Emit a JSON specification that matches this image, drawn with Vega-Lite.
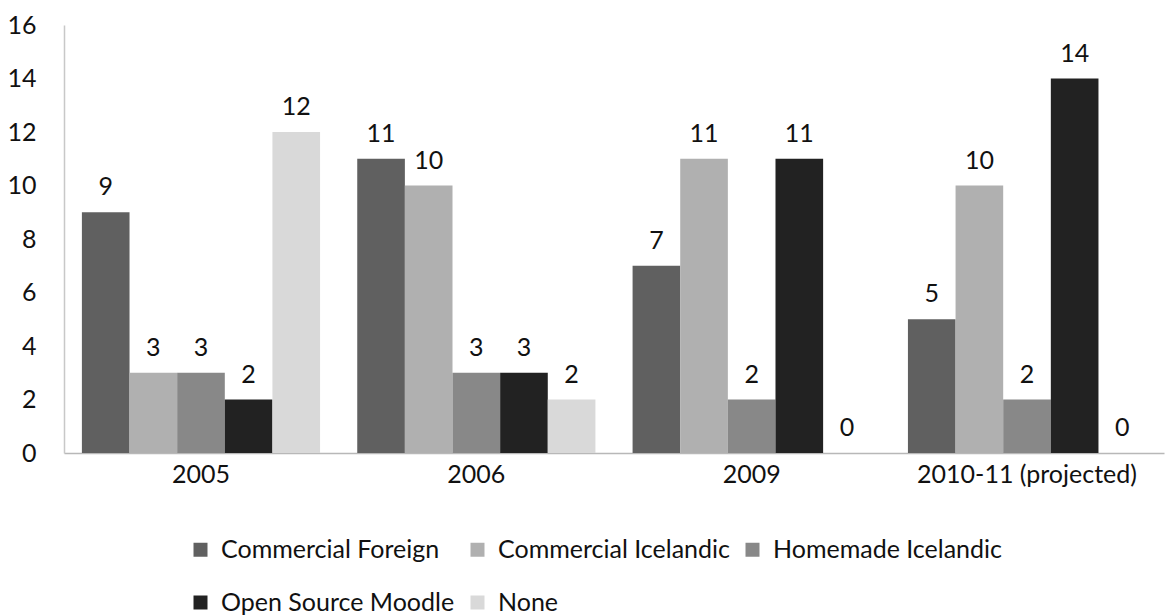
{
  "$schema": "https://vega.github.io/schema/vega-lite/v6.json",
  "width": 1100,
  "height": 428,
  "autosize": {"type": "none"},
  "padding": {"left": 64, "top": 25, "right": 9, "bottom": 163},
  "background": "white",
  "config": {
    "view": {"stroke": null},
    "font": "Lato",
    "axis": {"labelFont": "Lato", "labelFontSize": 25, "labelColor": "#111111", "grid": false, "ticks": false, "domainColor": "#b8b8b8", "domainWidth": 1.5, "labelLimit": 0},
    "legend": {"labelFont": "Lato", "labelFontSize": 25, "labelColor": "#111111", "labelLimit": 0}
  },
  "data": {
    "values": [
      {"year": "2005", "type": "Commercial Foreign", "value": 9},
      {"year": "2005", "type": "Commercial Icelandic", "value": 3},
      {"year": "2005", "type": "Homemade Icelandic", "value": 3},
      {"year": "2005", "type": "Open Source Moodle", "value": 2},
      {"year": "2005", "type": "None", "value": 12},
      {"year": "2006", "type": "Commercial Foreign", "value": 11},
      {"year": "2006", "type": "Commercial Icelandic", "value": 10},
      {"year": "2006", "type": "Homemade Icelandic", "value": 3},
      {"year": "2006", "type": "Open Source Moodle", "value": 3},
      {"year": "2006", "type": "None", "value": 2},
      {"year": "2009", "type": "Commercial Foreign", "value": 7},
      {"year": "2009", "type": "Commercial Icelandic", "value": 11},
      {"year": "2009", "type": "Homemade Icelandic", "value": 2},
      {"year": "2009", "type": "Open Source Moodle", "value": 11},
      {"year": "2009", "type": "None", "value": 0},
      {"year": "2010-11 (projected)", "type": "Commercial Foreign", "value": 5},
      {"year": "2010-11 (projected)", "type": "Commercial Icelandic", "value": 10},
      {"year": "2010-11 (projected)", "type": "Homemade Icelandic", "value": 2},
      {"year": "2010-11 (projected)", "type": "Open Source Moodle", "value": 14},
      {"year": "2010-11 (projected)", "type": "None", "value": 0}
    ]
  },
  "encoding": {
    "x": {
      "field": "year", "type": "nominal", "sort": null,
      "scale": {"paddingInner": 0.135, "paddingOuter": 0.065},
      "axis": {"title": null, "labelAngle": 0, "labelPadding": 9}
    },
    "xOffset": {
      "field": "type", "type": "nominal",
      "sort": ["Commercial Foreign", "Commercial Icelandic", "Homemade Icelandic", "Open Source Moodle", "None"],
      "scale": {"paddingInner": 0, "paddingOuter": 0}
    },
    "y": {
      "field": "value", "type": "quantitative",
      "scale": {"domain": [0, 16], "nice": false},
      "axis": {"title": null, "values": [0, 2, 4, 6, 8, 10, 12, 14, 16], "labelPadding": 28, "domainColor": "#c8c8c8"}
    }
  },
  "layer": [
    {
      "mark": {"type": "bar"},
      "encoding": {
        "color": {
          "field": "type", "type": "nominal",
          "sort": ["Commercial Foreign", "Commercial Icelandic", "Homemade Icelandic", "Open Source Moodle", "None"],
          "scale": {
            "domain": ["Commercial Foreign", "Commercial Icelandic", "Homemade Icelandic", "Open Source Moodle", "None"],
            "range": ["#606060", "#b0b0b0", "#888888", "#222222", "#d9d9d9"]
          },
          "legend": {
            "title": null, "orient": "none", "direction": "horizontal", "columns": 3,
            "legendX": 124, "legendY": 512,
            "symbolType": "square", "symbolSize": 196, "symbolStrokeWidth": 0,
            "rowPadding": 27, "columnPadding": 10, "labelOffset": 8
          }
        }
      }
    },
    {
      "mark": {"type": "text", "baseline": "bottom", "dy": -12, "fontSize": 25, "color": "#111111"},
      "encoding": {"text": {"field": "value", "type": "quantitative"}}
    }
  ]
}
